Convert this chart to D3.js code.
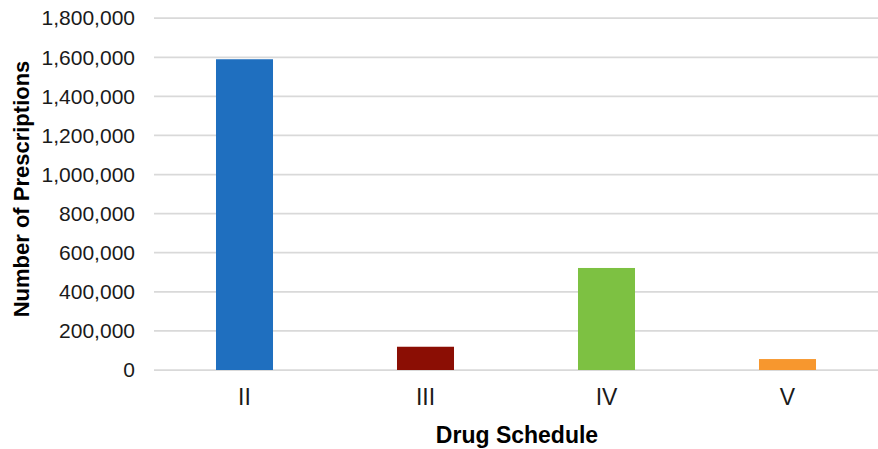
<!DOCTYPE html>
<html>
<head>
<meta charset="utf-8">
<script src="https://cdn.jsdelivr.net/npm/d3@7"></script>
<style>
  html, body { margin: 0; padding: 0; background: #fff; }
  svg { display: block; }
</style>
</head>
<body>
<svg id="chart" width="878" height="449"></svg>
<script>
const categories = ["II", "III", "IV", "V"];
const values = [1590000, 119000, 522000, 56000];
const colors = ["#1F6FBF", "#8B0E04", "#7DC142", "#F7972E"];
const yTicks = [0, 200000, 400000, 600000, 800000, 1000000, 1200000, 1400000, 1600000, 1800000];
const yTitle = "Number of Prescriptions";
const xTitle = "Drug Schedule";

const svg = d3.select("#chart");
const fontFamily = "'Liberation Sans', Arial, Helvetica, sans-serif";

const x = d3.scaleBand()
  .domain(categories)
  .range([154, 878])
  .paddingInner(0.685)
  .paddingOuter(0.3425);

const y = d3.scaleLinear()
  .domain([0, 1800000])
  .range([370, 18.2]);

// gridlines
svg.append("g")
  .selectAll("line")
  .data(yTicks)
  .join("line")
  .attr("x1", 154)
  .attr("x2", 878)
  .attr("y1", d => y(d))
  .attr("y2", d => y(d))
  .attr("stroke", "#d9d9d9")
  .attr("stroke-width", 1.75);

// y axis labels
const yAxis = d3.axisLeft(y)
  .tickValues(yTicks)
  .tickSize(0)
  .tickPadding(0)
  .tickFormat(d3.format(","));
const yg = svg.append("g").attr("transform", "translate(135,0)").call(yAxis);
yg.select(".domain").remove();
yg.selectAll("text")
  .attr("font-family", fontFamily)
  .attr("font-size", 21)
  .attr("fill", "#1a1a1a");

// bars
svg.append("g")
  .selectAll("rect")
  .data(values)
  .join("rect")
  .attr("x", (d, i) => x(categories[i]))
  .attr("width", x.bandwidth())
  .attr("y", d => y(d))
  .attr("height", d => y(0) - y(d))
  .attr("fill", (d, i) => colors[i]);

// x axis labels
const xAxis = d3.axisBottom(x).tickSize(0).tickPadding(0);
const xg = svg.append("g").attr("transform", "translate(0,389)").call(xAxis);
xg.select(".domain").remove();
xg.selectAll("text")
  .attr("font-family", fontFamily)
  .attr("font-size", 23)
  .attr("fill", "#1a1a1a");

// axis titles
svg.append("text")
  .attr("x", 517)
  .attr("y", 443)
  .attr("text-anchor", "middle")
  .attr("font-family", fontFamily)
  .attr("font-size", 23)
  .attr("font-weight", "bold")
  .attr("fill", "#000")
  .text(xTitle);

svg.append("text")
  .attr("transform", "translate(29,189) rotate(-90)")
  .attr("text-anchor", "middle")
  .attr("font-family", fontFamily)
  .attr("font-size", 22)
  .attr("font-weight", "bold")
  .attr("fill", "#000")
  .text(yTitle);
</script>
</body>
</html>
